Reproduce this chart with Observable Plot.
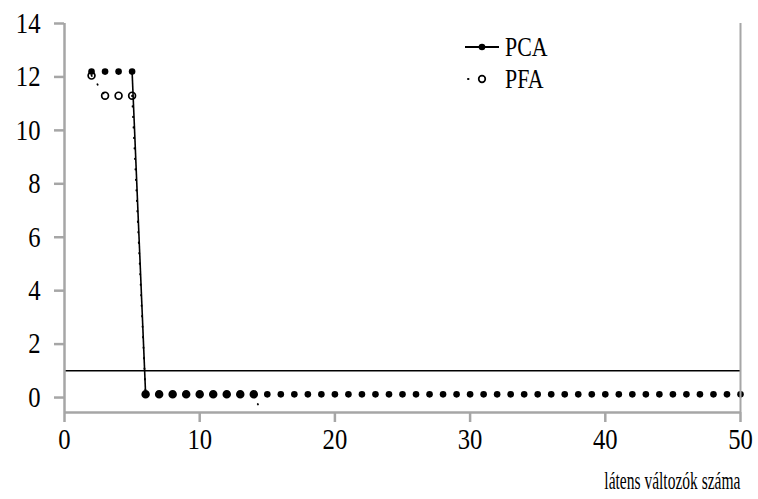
<!DOCTYPE html>
<html>
<head>
<meta charset="utf-8">
<script src="https://cdn.jsdelivr.net/npm/d3@7"></script>
<script src="https://cdn.jsdelivr.net/npm/@observablehq/plot@0.6"></script>
<style>
  body { margin: 0; background: #fff; }
  #wrap { position: relative; width: 758px; height: 499px; font-family: "Liberation Serif", serif; }
  #legend { position: absolute; left: 461px; top: 31px; font-size: 28px; }
  #legend div { display: flex; align-items: center; height: 32px; }
  #legend svg { margin-right: 4px; }
  #legend span { display: inline-block; transform: scaleX(0.78); transform-origin: left center; }
  #xlabel { position: absolute; right: 18px; top: 466px; font-size: 25px; white-space: nowrap; transform: scaleX(0.62); transform-origin: right center; line-height: 30px; }
</style>
</head>
<body>
<div id="wrap"></div>
<script>
// Data
const pcaX = d3.range(2, 51);
const pcaY = [12.2, 12.2, 12.2, 12.2].concat(Array(45).fill(0.12));
const pfaX = d3.range(2, 16);
const pfaY = [12.05, 11.3, 11.3, 11.3, 0.12, 0.12, 0.12, 0.12, 0.12, 0.12, 0.12, 0.12, 0.12, -1.1];
const xTicks = [0, 10, 20, 30, 40, 50];
const yTicks = [0, 2, 4, 6, 8, 10, 12, 14];
const threshold = 1;
const xLabel = "látens változók száma";

const pca = pcaX.map((x, i) => ({x, y: pcaY[i]}));
const pfa = pfaX.map((x, i) => ({x, y: pfaY[i]}));
function segments(pts) {
  const s = [];
  for (let i = 1; i < pts.length; i++) {
    if (Math.abs(pts[i].y - pts[i - 1].y) > 0.5) s.push({x1: pts[i - 1].x, y1: pts[i - 1].y, x2: pts[i].x, y2: pts[i].y});
  }
  return s;
}
const yMin = -0.56;
const pfaMarks = pfa.filter(d => d.y >= yMin);
const gray = "#a6a6a6";

const chart = Plot.plot({
  width: 758,
  height: 499,
  marginLeft: 64,
  marginRight: 18,
  marginTop: 23,
  marginBottom: 87,
  style: {fontFamily: "Liberation Serif, serif", fontSize: "29px", color: "#000", background: "#fff"},
  x: {domain: [0, 50]},
  y: {domain: [yMin, 14]},
  marks: [
    Plot.ruleY([threshold], {stroke: "#000", strokeWidth: 1.6}),
    Plot.link(segments(pca), {x1: "x1", y1: "y1", x2: "x2", y2: "y2", stroke: "#000", strokeWidth: 1.6, clip: true}),
    Plot.link(segments(pfa), {x1: "x1", y1: "y1", x2: "x2", y2: "y2", stroke: "#000", strokeWidth: 1.8, strokeDasharray: "0.5,10", strokeLinecap: "round", clip: true}),
    Plot.dot(pca, {x: "x", y: "y", r: 3.3, fill: "#000", stroke: "none"}),
    Plot.dot(pfaMarks, {x: "x", y: "y", r: 3.4, fill: "none", stroke: "#000", strokeWidth: 1.7}),
    Plot.ruleX([0], {stroke: gray, strokeWidth: 2.5}),
    Plot.ruleX([50], {stroke: gray, strokeWidth: 2}),
    Plot.ruleY([yMin], {stroke: gray, strokeWidth: 2.5}),
    Plot.axisY(yTicks, {tickSize: 10, tickPadding: 14, stroke: gray, strokeWidth: 2.5, fontSize: 29, label: null, tickFormat: d => d}),
    Plot.axisX(xTicks, {tickSize: 10, tickPadding: 6, stroke: gray, strokeWidth: 2.5, fontSize: 29, label: null, tickFormat: d => d})
  ]
});
document.getElementById("wrap").appendChild(chart);
// condensed glyphs like the reference
d3.select(chart).selectAll('g[aria-label$="tick label"]').attr("font-size", 29)
  .selectAll("text").each(function() {
    const t = this.getAttribute("transform") || "";
    this.setAttribute("transform", t + " scale(0.85,1)");
  });

const lab = document.createElement("div");
lab.id = "xlabel";
lab.textContent = xLabel;
document.getElementById("wrap").appendChild(lab);

const legend = document.createElement("div");
legend.id = "legend";
legend.innerHTML = `
<div><svg width="40" height="14"><line x1="4" y1="7" x2="38" y2="7" stroke="#000" stroke-width="2"/><circle cx="21" cy="7" r="3.3" fill="#000"/></svg><span>PCA</span></div>
<div><svg width="40" height="14"><line x1="7" y1="7" x2="36" y2="7" stroke="#000" stroke-width="2" stroke-dasharray="0.5,28.5" stroke-linecap="round"/><circle cx="21" cy="7" r="3.3" fill="none" stroke="#000" stroke-width="1.7"/></svg><span>PFA</span></div>`;
document.getElementById("wrap").appendChild(legend);
</script>
</body>
</html>
